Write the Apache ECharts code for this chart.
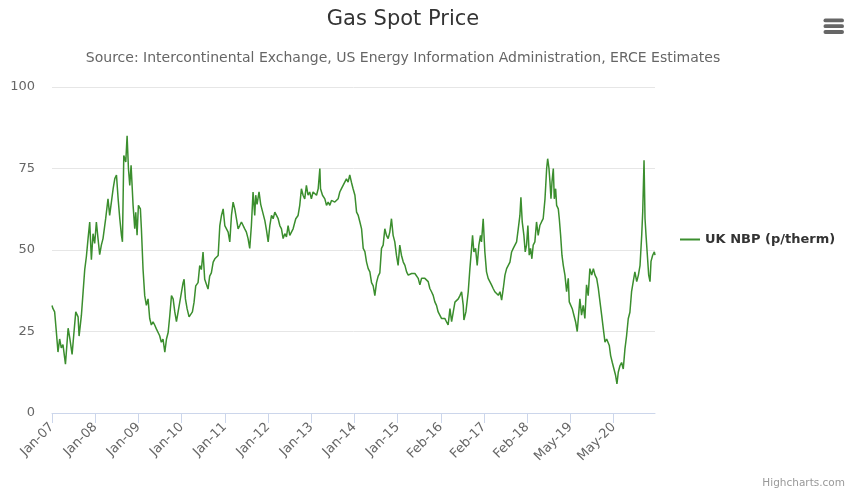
<!DOCTYPE html>
<html>
<head>
<meta charset="utf-8">
<script src="https://cdn.jsdelivr.net/npm/echarts@6/dist/echarts.min.js"></script>
<style>
  html, body { margin: 0; padding: 0; background: #fff; }
  #chart { width: 847px; height: 489px; }
</style>
</head>
<body>
<div id="chart"></div>
<script>
// one axis label every 260 trading days
var tickLabels = ['Jan-07', 'Jan-08', 'Jan-09', 'Jan-10', 'Jan-11', 'Jan-12', 'Jan-13',
  'Jan-14', 'Jan-15', 'Feb-16', 'Feb-17', 'Feb-18', 'May-19', 'May-20'];
var tickStep = 260;
var lastDay = 3629;

// UK NBP spot price, [trading day, p/therm]
var nbp0709 = [[0,33],[6,32],[16,31],[26,25],[36,18.7],[46,22.7],[56,20],[66,21],[81,15],[97,26],
  [107,23],[121,18],[131,24],[143,31],[157,29.5],[163,23.6],[177,30],[187,37],[197,44],[207,48],
  [217,53.5],[227,58.6],[237,47],[247,55],[257,52],[267,58.6],[277,53.5],[287,48.6],[297,51.5],[307,53.5],
  [323,59.6],[337,65.7],[347,60.6],[357,60.6],[368,68.8],[378,71.9],[388,73],[398,65.7],[408,59.6],[418,54.5],
  [424,52.5],[432,79],[444,77],[452,85],[460,75],[468,69.8],[476,76],[488,63.7],[498,56.5],[504,61.6],
  [512,54.5],[520,63.7],[532,62.6],[538,56.5],[548,44],[558,36],[568,33],[578,35],[588,29],[598,27]];
var nbp0911 = [[608,28],[618,27],[628,25.8],[638,25.3],[648,23.7],[658,21.7],[668,22.7],[679,18.7],[689,22.7],[699,24.7],
  [709,29.9],[719,36],[729,35],[739,31],[749,28],[759,31],[769,34],[779,37],[789,40],[795,41],
  [803,35],[813,32],[825,29.5],[835,30],[845,31],[855,34],[865,39],[879,40],[889,45.2],[899,44],
  [909,49.4],[919,41],[929,41],[939,38],[949,42],[959,43],[970,46.3],[980,47.3],[990,47.8],[1000,48.3],
  [1010,57.5],[1020,60.6],[1030,62.6],[1040,57.5],[1050,56.5],[1060,55.5],[1070,52.5],[1080,60.6],[1090,64.7],[1100,62.6],
  [1110,59.6],[1120,56.5],[1130,57.5],[1140,58.6],[1150,58.6],[1160,56.5],[1170,55.5],[1180,53.5],[1190,50.5]];
var nbp1114 = [[1200,57.5],[1210,67.8],[1220,60.6],[1226,66.8],[1234,64],[1246,67.8],[1256,64],[1266,62],[1281,59],[1291,56],
  [1301,52.5],[1311,57.5],[1321,60.6],[1331,59.6],[1341,61.6],[1351,60.6],[1361,59.6],[1371,57.5],[1381,56.5],[1391,53.5],
  [1401,55],[1411,54],[1421,57.5],[1431,54.5],[1441,54],[1451,56.5],[1467,59.6],[1481,60.6],[1491,63.7],[1501,68.8],
  [1511,66.8],[1521,65.7],[1531,69.8],[1541,66.8],[1551,67.8],[1561,65.7],[1571,67.8],[1581,67.3],[1592,66.8],[1602,68.8],
  [1612,75],[1616,68.8],[1628,66.8],[1642,65.7],[1652,63.7],[1662,64.7],[1672,63.7],[1682,65.2],[1692,65.7],[1702,64.7],
  [1712,64.2],[1722,65.7],[1732,67.8],[1742,68.8],[1752,69.8],[1762,70.8],[1772,71.8],[1782,70.8],[1792,73]];
var nbp1416 = [[1802,70.8],[1812,68.8],[1823,66.8],[1833,61.6],[1843,60.6],[1853,58.6],[1863,56.5],[1873,50.5],[1883,49.5],[1893,46.3],
  [1903,44.3],[1913,43.3],[1923,40],[1933,39],[1943,36],[1953,40],[1963,42],[1973,43],[1983,50.5],[1993,51.5],
  [2003,56.5],[2013,54.5],[2023,53.5],[2033,55.5],[2043,59.6],[2053,54.5],[2063,52.5],[2073,48.4],[2083,45.3],[2093,51.5],
  [2103,48.4],[2114,46.3],[2124,45.3],[2134,43.3],[2144,42.3],[2154,42.3],[2164,42.8],[2174,43.3],[2184,42.8],[2194,43.3],
  [2204,41.3],[2214,39.3],[2224,41.3],[2234,41.8],[2244,41.3],[2254,41.8],[2264,40.3],[2274,38.2],[2284,37.2],[2294,36.1],
  [2304,34.1],[2314,33],[2324,31],[2334,30],[2344,29],[2354,28.5],[2364,29],[2374,28],[2384,27],[2395,32]];
var nbp1618 = [[2405,28],[2415,31],[2425,34],[2435,34.6],[2445,35],[2455,36],[2465,37.2],[2475,33],[2479,28.5],[2491,31],
  [2505,37.2],[2515,44.3],[2525,50.5],[2531,54.5],[2539,49.4],[2549,50.5],[2559,45.3],[2569,51.5],[2579,54.5],[2585,52.5],
  [2595,59.6],[2605,49.4],[2615,43.3],[2625,41.3],[2635,40.3],[2645,39.3],[2655,38.2],[2665,37.2],[2676,37.2],[2686,36.1],
  [2696,37.2],[2706,34.6],[2716,38.2],[2726,42.3],[2736,44.3],[2746,45.3],[2756,46.3],[2766,49.4],[2776,50.5],[2786,51.5],
  [2796,52.5],[2806,56.5],[2816,60.6],[2822,66.2],[2830,58.6],[2840,54.5],[2848,49.4],[2856,51.5],[2864,57.5],[2872,48.4],
  [2880,50.5],[2888,47.3],[2896,51.5],[2906,52.5],[2916,58.6],[2926,54.5],[2936,57.5],[2946,58.6],[2956,59.6],[2967,65.7],
  [2977,75],[2983,78],[2991,75],[2997,70.8]];
var nbp1820 = [[3003,65.7],[3009,70.8],[3017,75],[3023,65.7],[3031,68.8],[3037,63.7],[3047,62.6],[3053,59.6],[3061,54.5],[3069,48.4],
  [3077,45.3],[3087,42.3],[3097,37.2],[3107,41.3],[3113,34.1],[3121,34.1],[3131,32],[3141,30],[3151,28],[3161,25],
  [3169,30],[3177,35],[3187,30],[3197,33],[3207,29],[3217,39.3],[3227,36],[3237,44.3],[3248,42.3],[3258,44.3],
  [3268,42.3],[3278,41.3],[3288,38.2],[3298,34.1],[3308,30],[3318,25.8],[3328,21.7],[3338,22.7],[3348,22.7],[3354,20.7],
  [3362,17.6],[3372,15.5],[3382,13.5],[3392,11.5],[3400,8.9],[3408,12.5],[3418,14.5],[3428,15.5],[3438,13.5],[3448,19.6],
  [3458,23.7],[3468,28.9],[3478,30.9],[3488,37.2],[3498,40.3],[3508,43.3],[3519,40.3],[3529,42.3],[3539,45.3],[3549,54.5],
  [3555,61.6],[3563,77.5],[3569,59.6],[3575,54.5],[3583,48.4],[3591,42.3],[3599,40.3],[3605,46.5],[3615,48.4],[3625,49.4],
  [3629,48.4]];

var nbp = [].concat(nbp0709, nbp0911, nbp1114, nbp1416, nbp1618, nbp1820);
var tickDays = tickLabels.map(function (l, i) { return i * tickStep; });

var font = 'DejaVu Sans';
var chart = echarts.init(document.getElementById('chart'));

var option = {
  animation: false,
  backgroundColor: '#fff',
  grid: { left: 52, right: 192, top: 87, bottom: 76, containLabel: false },
  legend: {
    orient: 'vertical',
    left: 680,
    top: 233,
    padding: 0,
    icon: 'rect',
    itemWidth: 20,
    itemHeight: 2,
    textStyle: { fontFamily: font, fontSize: 13, fontWeight: 'bold', color: '#333' }
  },
  xAxis: {
    type: 'value',
    min: 0,
    max: lastDay,
    interval: tickStep,
    splitLine: { show: false },
    axisLine: { show: true, lineStyle: { color: '#ccd6eb', width: 1 } },
    axisTick: { show: true, length: 10, customValues: tickDays, lineStyle: { color: '#ccd6eb' } },
    axisLabel: {
      rotate: 45,
      margin: 12,
      customValues: tickDays,
      color: '#666',
      fontFamily: font,
      fontSize: 13,
      formatter: function (v) { return tickLabels[Math.round(v / tickStep)] || ''; }
    }
  },
  yAxis: {
    type: 'value',
    min: 0,
    max: 100,
    interval: 25,
    axisLine: { show: false },
    axisTick: { show: false },
    splitLine: { lineStyle: { color: '#e6e6e6' } },
    axisLabel: { color: '#666', fontFamily: font, fontSize: 13, margin: 17 }
  },
  series: [{
    name: 'UK NBP (p/therm)',
    type: 'line',
    symbol: 'none',
    showSymbol: false,
    data: nbp,
    color: '#3b8e2e',
    lineStyle: { width: 1.5, color: '#3b8e2e' }
  }],
  graphic: [
    { type: 'text', x: 403, y: 20, style: { text: 'Gas Spot Price', align: 'center', verticalAlign: 'middle',
      fontFamily: font, fontSize: 21, fill: '#333' } },
    { type: 'text', x: 403, y: 58, style: { text: 'Source: Intercontinental Exchange, US Energy Information Administration, ERCE Estimates',
      align: 'center', verticalAlign: 'middle', fontFamily: font, fontSize: 14, fill: '#666' } },
    { type: 'rect', shape: { x: 823.5, y: 18.5, width: 20.5, height: 3.8, r: 1.9 }, style: { fill: '#666' } },
    { type: 'rect', shape: { x: 823.5, y: 24.3, width: 20.5, height: 3.8, r: 1.9 }, style: { fill: '#666' } },
    { type: 'rect', shape: { x: 823.5, y: 30.1, width: 20.5, height: 3.8, r: 1.9 }, style: { fill: '#666' } },
    { type: 'text', x: 845, y: 483, style: { text: 'Highcharts.com', align: 'right', verticalAlign: 'middle',
      fontFamily: font, fontSize: 10.5, fill: '#999' } }
  ]
};

chart.setOption(option);
</script>
</body>
</html>
